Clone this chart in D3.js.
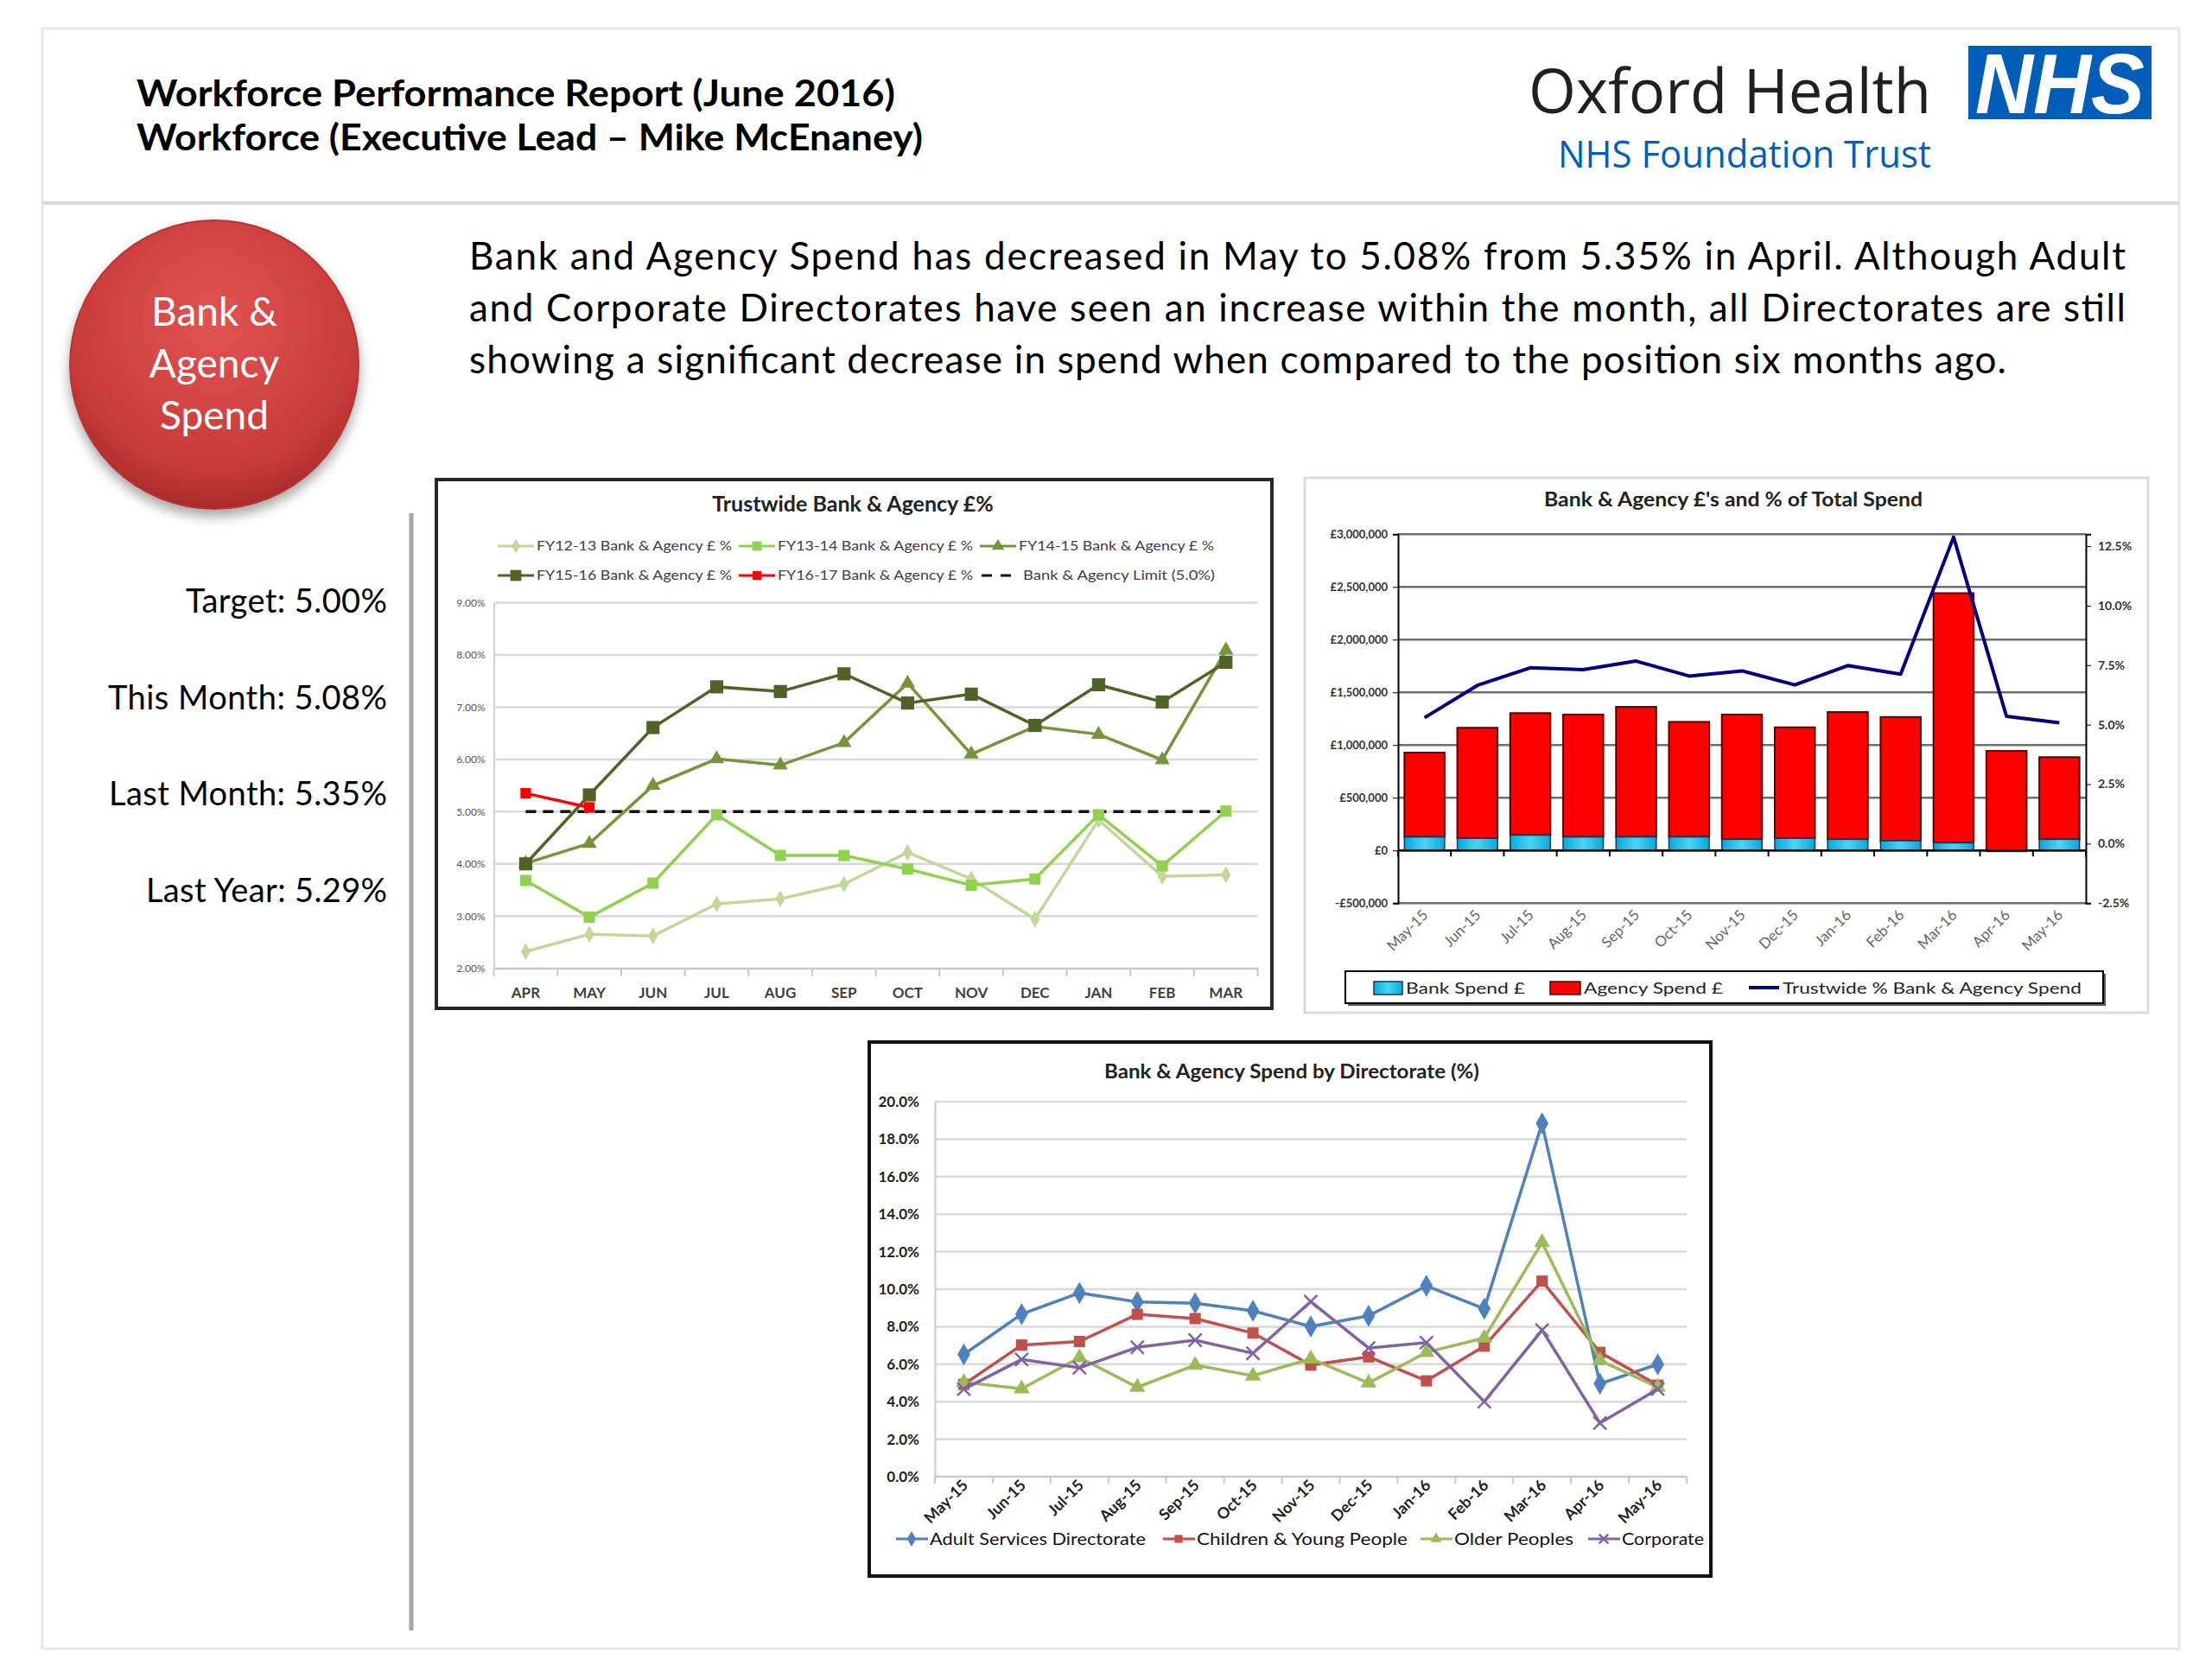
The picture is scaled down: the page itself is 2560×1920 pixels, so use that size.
<!DOCTYPE html>
<meta charset="utf-8">
<script src="https://d3js.org/d3.v7.min.js"></script>
<style>
  body { margin: 0; background: #fff; }
  text { font-family: Lato, "Open Sans", sans-serif; }
</style>
<div id="pagina"></div>
<script>

// ---- Datos: gráfico 1 (Trustwide Bank & Agency £%) ----
var meses = ["APR", "MAY", "JUN", "JUL", "AUG", "SEP", "OCT", "NOV", "DEC", "JAN", "FEB", "MAR"];
var fy1213 = [2.32, 2.65, 2.62, 3.23, 3.33, 3.61, 4.22, 3.71, 2.94, 4.84, 3.76, 3.79];
var fy1314 = [3.68, 2.98, 3.63, 4.94, 4.16, 4.16, 3.90, 3.59, 3.71, 4.94, 3.96, 5.01];
var fy1415 = [4.01, 4.39, 5.50, 6.01, 5.89, 6.32, 7.46, 6.10, 6.63, 6.48, 5.99, 8.09];
var fy1516 = [4.00, 5.32, 6.61, 7.39, 7.30, 7.64, 7.08, 7.25, 6.65, 7.43, 7.10, 7.86];
var fy1617 = [5.35, 5.08];
var limite = 5.0;
var ticksPct1 = [2, 3, 4, 5, 6, 7, 8, 9];

// ---- Datos: gráfico 2 (Bank & Agency £'s and % of Total Spend) ----
var periodos = ["May-15", "Jun-15", "Jul-15", "Aug-15", "Sep-15", "Oct-15", "Nov-15", "Dec-15", "Jan-16", "Feb-16", "Mar-16", "Apr-16", "May-16"];
var bankSpend = [128000, 115000, 145000, 128000, 128000, 128000, 105000, 115000, 105000, 92000, 72000, -10000, 105000];
var agencySpend = [800000, 1049000, 1158000, 1161000, 1234000, 1092000, 1184000, 1053000, 1208000, 1174000, 2369000, 944000, 780000];
var trustPct = [5.29, 6.65, 7.39, 7.31, 7.67, 7.04, 7.26, 6.67, 7.48, 7.12, 12.88, 5.35, 5.08];
var ticksLibras = [-500000, 0, 500000, 1000000, 1500000, 2000000, 2500000, 3000000];
var ticksPct2 = [-2.5, 0, 2.5, 5, 7.5, 10, 12.5];

// ---- Datos: gráfico 3 (Spend by Directorate) ----
var adult = [6.52, 8.67, 9.80, 9.32, 9.25, 8.85, 8.01, 8.58, 10.18, 8.96, 18.84, 4.96, 5.99];
var children = [4.92, 7.02, 7.21, 8.66, 8.43, 7.66, 5.95, 6.39, 5.11, 6.96, 10.43, 6.63, 4.88];
var older = [5.03, 4.69, 6.35, 4.77, 5.95, 5.38, 6.29, 5.00, 6.63, 7.40, 12.49, 6.20, 4.77];
var corporate = [4.67, 6.25, 5.81, 6.90, 7.28, 6.58, 9.34, 6.86, 7.15, 4.00, 7.82, 2.86, 4.67];
var ticksPct3 = [0, 2, 4, 6, 8, 10, 12, 14, 16, 18, 20];

// ---- Textos ----
var parrafo = [
  "Bank and Agency Spend has decreased in May to 5.08% from 5.35% in April. Although Adult",
  "and Corporate Directorates have seen an increase within the month, all Directorates are still",
  "showing a significant decrease in spend when compared to the position six months ago."
];
var indicadores = ["Target: 5.00%", "This Month: 5.08%", "Last Month: 5.35%", "Last Year: 5.29%"];

var svg = d3.select("#pagina").append("svg")
  .attr("width", 2560).attr("height", 1920);

var defs = svg.append("defs");
var grad = defs.append("radialGradient").attr("id", "rojo").attr("cx", "50%").attr("cy", "35%").attr("r", "65%");
grad.append("stop").attr("offset", "0%").attr("stop-color", "#E25452");
grad.append("stop").attr("offset", "80%").attr("stop-color", "#C73A38");
grad.append("stop").attr("offset", "100%").attr("stop-color", "#A82B2A");
var sombra = defs.append("filter").attr("id", "sombra").attr("x", "-20%").attr("y", "-20%").attr("width", "140%").attr("height", "150%");
sombra.append("feDropShadow").attr("dx", 0).attr("dy", 8).attr("stdDeviation", 7).attr("flood-color", "#000").attr("flood-opacity", 0.35);
var cian = defs.append("linearGradient").attr("id", "cian");
cian.append("stop").attr("offset", "0%").attr("stop-color", "#0AA8D8");
cian.append("stop").attr("offset", "50%").attr("stop-color", "#45D6F8");
cian.append("stop").attr("offset", "100%").attr("stop-color", "#0AA8D8");

// ---- Marco de la página ----
svg.append("rect").attr("x", 49).attr("y", 33).attr("width", 2473).attr("height", 1875)
  .attr("fill", "none").attr("stroke", "#E6E6E6").attr("stroke-width", 3);
svg.append("line").attr("x1", 49).attr("x2", 2522).attr("y1", 235).attr("y2", 235)
  .attr("stroke", "#D9D9D9").attr("stroke-width", 4);
svg.append("line").attr("x1", 476).attr("x2", 476).attr("y1", 594).attr("y2", 1887)
  .attr("stroke", "#A6A6A6").attr("stroke-width", 5);

// Cabecera
svg.append("text").attr("x", 158).attr("y", 123).attr("font-size", 42).attr("font-weight", "bold")
  .attr("textLength", 878).attr("lengthAdjust", "spacingAndGlyphs")
  .text("Workforce Performance Report (June 2016)");
svg.append("text").attr("x", 158).attr("y", 174).attr("font-size", 42).attr("font-weight", "bold")
  .attr("textLength", 910).attr("lengthAdjust", "spacingAndGlyphs")
  .text("Workforce (Executive Lead – Mike McEnaney)");

svg.append("text").attr("x", 1769).attr("y", 131).attr("font-size", 72).attr("fill", "#231F20")
  .style("font-family", "'Open Sans', sans-serif")
  .attr("textLength", 466).attr("lengthAdjust", "spacingAndGlyphs").text("Oxford Health");
svg.append("text").attr("x", 1803).attr("y", 194).attr("font-size", 44).attr("fill", "#005EB8")
  .style("font-family", "'Open Sans', sans-serif")
  .attr("textLength", 432).attr("lengthAdjust", "spacingAndGlyphs").text("NHS Foundation Trust");
svg.append("rect").attr("x", 2278).attr("y", 53).attr("width", 212).attr("height", 85).attr("fill", "#005EB8");
svg.append("text").attr("x", 2384).attr("y", 131).attr("text-anchor", "middle").attr("font-size", 98)
  .attr("font-weight", "bold").attr("font-style", "italic").attr("fill", "#fff")
  .style("font-family", "'Liberation Sans', Arial, sans-serif")
  .attr("textLength", 196).attr("lengthAdjust", "spacingAndGlyphs").text("NHS");

// Círculo rojo
svg.append("circle").attr("cx", 248).attr("cy", 422).attr("r", 167)
  .attr("fill", "url(#rojo)").attr("stroke", "#B83634").attr("stroke-width", 2).attr("filter", "url(#sombra)");
["Bank &", "Agency", "Spend"].forEach(function(t, i) {
  svg.append("text").attr("x", 248).attr("y", 377 + i * 60).attr("text-anchor", "middle")
    .attr("font-size", 46).attr("fill", "#fff").text(t);
});

// Párrafo justificado
parrafo.forEach(function(t, i) {
  var tx = svg.append("text").attr("x", 543).attr("y", 312 + i * 60).attr("font-size", 44).attr("fill", "#000")
    .attr("lengthAdjust", "spacing").text(t);
  tx.attr("textLength", i < 2 ? 1917 : 1779);
});

// Indicadores
var anchos = [233, 323, 322, 279];
indicadores.forEach(function(t, i) {
  svg.append("text").attr("x", 448).attr("y", 709 + i * 111.7).attr("text-anchor", "end")
    .attr("font-size", 38).attr("fill", "#000")
    .attr("textLength", anchos[i]).attr("lengthAdjust", "spacing").text(t);
});

// ---- Ayudante de marcadores ----
function simbolo(tipo) {
  return {diamond: d3.symbolDiamond, square: d3.symbolSquare, triangle: d3.symbolTriangle, x: d3.symbolX}[tipo];
}
function marcador(g, tipo, area, color, x, y) {
  var p = g.append("path").attr("d", d3.symbol(simbolo(tipo), area)())
    .attr("transform", "translate(" + x + "," + y + ")");
  if (tipo === "x") p.attr("fill", "none").attr("stroke", color).attr("stroke-width", 2.5);
  else p.attr("fill", color);
  return p;
}

// =========================================================
// Gráfico 1
// =========================================================
var g1 = svg.append("g");
g1.append("rect").attr("x", 505).attr("y", 555).attr("width", 967).attr("height", 612)
  .attr("fill", "#fff").attr("stroke", "#262626").attr("stroke-width", 4);
g1.append("text").attr("x", 987).attr("y", 592).attr("text-anchor", "middle").attr("font-size", 25)
  .attr("font-weight", "bold").attr("fill", "#222").text("Trustwide Bank & Agency £%");

var x1 = d3.scaleBand().domain(meses).range([571.6, 1455.6]);
var y1 = d3.scaleLinear().domain([2, 9]).range([1120.6, 697.6]);
var cx1 = function(m) { return x1(m) + x1.bandwidth() / 2; };

g1.selectAll(".grid1").data(ticksPct1.slice(1)).enter().append("line")
  .attr("x1", 571.6).attr("x2", 1455.6).attr("y1", function(d) { return y1(d); }).attr("y2", function(d) { return y1(d); })
  .attr("stroke", "#D9D9D9").attr("stroke-width", 2.5);

var ejeY1 = g1.append("g").attr("transform", "translate(571.6,0)")
  .call(d3.axisLeft(y1).tickValues(ticksPct1).tickSize(0).tickPadding(10).tickFormat(function(d) { return d.toFixed(2) + "%"; }));
ejeY1.select(".domain").attr("stroke", "#D0D0D0").attr("stroke-width", 2);
ejeY1.selectAll("text").attr("font-size", 12).attr("fill", "#555").style("font-family", "Lato, sans-serif");

var ejeX1 = g1.append("g").attr("transform", "translate(0,1120.6)")
  .call(d3.axisBottom(x1).tickSize(0).tickPadding(22));
ejeX1.select(".domain").attr("stroke", "#C8C8C8").attr("stroke-width", 2.5);
ejeX1.selectAll("text").attr("font-size", 17).attr("font-weight", "bold").attr("fill", "#404040")
  .style("font-family", "Lato, sans-serif");
g1.selectAll(".tick1").data(meses.concat(["fin"])).enter().append("line")
  .attr("x1", function(d, i) { return x1.range()[0] + i * x1.step(); })
  .attr("x2", function(d, i) { return x1.range()[0] + i * x1.step(); })
  .attr("y1", 1120.6).attr("y2", 1130).attr("stroke", "#C8C8C8").attr("stroke-width", 2);

var series1 = [
  {nombre: "FY12-13 Bank & Agency £ %", valores: fy1213, color: "#C4D79B", tipo: "diamond", area: 110},
  {nombre: "FY13-14 Bank & Agency £ %", valores: fy1314, color: "#92D050", tipo: "square", area: 170},
  {nombre: "FY14-15 Bank & Agency £ %", valores: fy1415, color: "#77933C", tipo: "triangle", area: 130},
  {nombre: "FY15-16 Bank & Agency £ %", valores: fy1516, color: "#4F6228", tipo: "square", area: 230},
  {nombre: "FY16-17 Bank & Agency £ %", valores: fy1617, color: "#FF0000", tipo: "square", area: 150}
];

// línea límite
g1.append("line").attr("x1", cx1("APR")).attr("x2", cx1("MAR")).attr("y1", y1(limite)).attr("y2", y1(limite))
  .attr("stroke", "#111").attr("stroke-width", 3.5).attr("stroke-dasharray", "12,8");

var linea1 = d3.line().x(function(d, i) { return cx1(meses[i]); }).y(function(d) { return y1(d); });
series1.forEach(function(s) {
  g1.append("path").datum(s.valores).attr("d", linea1).attr("fill", "none")
    .attr("stroke", s.color).attr("stroke-width", 3.5);
  s.valores.forEach(function(v, i) { marcador(g1, s.tipo, s.area, s.color, cx1(meses[i]), y1(v)); });
});

// leyenda gráfico 1
var ley1 = series1.map(function(s) { return s; }).concat([{nombre: "Bank & Agency Limit (5.0%)", color: "#111", tipo: "dash"}]);
ley1.forEach(function(s, i) {
  var col = i % 3, fila = Math.floor(i / 3);
  var lx = 576 + col * 279, ly = 632 + fila * 34;
  if (s.tipo === "dash") {
    g1.append("line").attr("x1", lx + 2).attr("x2", lx + 42).attr("y1", ly).attr("y2", ly)
      .attr("stroke", s.color).attr("stroke-width", 3).attr("stroke-dasharray", "12,10");
  } else {
    g1.append("line").attr("x1", lx).attr("x2", lx + 42).attr("y1", ly).attr("y2", ly)
      .attr("stroke", s.color).attr("stroke-width", 3);
    marcador(g1, s.tipo, s.area * 0.7, s.color, lx + 21, ly);
  }
  g1.append("text").attr("x", lx + (s.tipo === "dash" ? 50 : 45)).attr("y", ly + 5).attr("font-size", 15)
    .attr("fill", "#404040").attr("textLength", s.tipo === "dash" ? 222 : 226).attr("lengthAdjust", "spacingAndGlyphs")
    .text(s.nombre);
});

// =========================================================
// Gráfico 2
// =========================================================
var g2 = svg.append("g");
g2.append("rect").attr("x", 1510).attr("y", 553).attr("width", 976).attr("height", 619)
  .attr("fill", "#fff").attr("stroke", "#DCDCDC").attr("stroke-width", 3);
g2.append("text").attr("x", 2006).attr("y", 586).attr("text-anchor", "middle").attr("font-size", 23)
  .attr("font-weight", "bold").attr("fill", "#222")
  .attr("textLength", 438).attr("lengthAdjust", "spacingAndGlyphs").text("Bank & Agency £'s and % of Total Spend");

var x2 = d3.scaleBand().domain(periodos).range([1618, 2414]).paddingInner(0.24).paddingOuter(0.12);
var y2 = d3.scaleLinear().domain([-500000, 3000000]).range([1045.2, 618.3]);
var y2r = d3.scaleLinear().domain([-2.5, 13]).range([1045.2, 618.3]);
var cx2 = function(p) { return x2(p) + x2.bandwidth() / 2; };

g2.selectAll(".grid2").data(ticksLibras).enter().append("line")
  .attr("x1", 1618).attr("x2", 2414).attr("y1", function(d) { return y2(d); }).attr("y2", function(d) { return y2(d); })
  .attr("stroke", "#6E6E6E").attr("stroke-width", 2.5);

var ejeY2 = g2.append("g").attr("transform", "translate(1618,0)")
  .call(d3.axisLeft(y2).tickValues(ticksLibras).tickSize(6).tickPadding(6)
    .tickFormat(function(d) { return (d < 0 ? "-£" : "£") + d3.format(",")(Math.abs(d)); }));
ejeY2.select(".domain").attr("stroke", "#000").attr("stroke-width", 2);
ejeY2.selectAll("line").attr("stroke", "#000");
ejeY2.selectAll("text").attr("font-size", 13).attr("font-weight", "bold").attr("fill", "#333")
  .style("font-family", "Lato, sans-serif");

var ejeY2r = g2.append("g").attr("transform", "translate(2414,0)")
  .call(d3.axisRight(y2r).tickValues(ticksPct2).tickSize(6).tickPadding(8)
    .tickFormat(function(d) { return d.toFixed(1) + "%"; }));
ejeY2r.select(".domain").attr("stroke", "#000").attr("stroke-width", 2);
ejeY2r.selectAll("line").attr("stroke", "#000");
ejeY2r.selectAll("text").attr("font-size", 14).attr("font-weight", "bold").attr("fill", "#333")
  .style("font-family", "Lato, sans-serif");

// barras apiladas
periodos.forEach(function(p, i) {
  var b = bankSpend[i], base = Math.max(0, b);
  g2.append("rect").attr("x", x2(p)).attr("width", x2.bandwidth())
    .attr("y", y2(base + agencySpend[i])).attr("height", y2(base) - y2(base + agencySpend[i]))
    .attr("fill", "#FF0000").attr("stroke", "#5A0000").attr("stroke-width", 2);
  g2.append("rect").attr("x", x2(p)).attr("width", x2.bandwidth())
    .attr("y", y2(Math.max(0, b))).attr("height", Math.abs(y2(0) - y2(b)))
    .attr("fill", "url(#cian)").attr("stroke", "#0B3B5B").attr("stroke-width", 1.5);
});

// eje de categorías en £0
g2.append("line").attr("x1", 1618).attr("x2", 2414).attr("y1", y2(0)).attr("y2", y2(0))
  .attr("stroke", "#000").attr("stroke-width", 2.5);
g2.selectAll(".tick2").data(periodos.concat(["fin"])).enter().append("line")
  .attr("x1", function(d, i) { return 1618 + i * (796 / periodos.length); })
  .attr("x2", function(d, i) { return 1618 + i * (796 / periodos.length); })
  .attr("y1", y2(0)).attr("y2", y2(0) + 7).attr("stroke", "#000").attr("stroke-width", 2);
g2.selectAll(".lab2").data(periodos).enter().append("text")
  .attr("transform", function(d) { return "translate(" + (cx2(d) + 5) + ",1060) rotate(-45)"; })
  .attr("text-anchor", "end").attr("font-size", 17).attr("fill", "#666").text(function(d) { return d; });

// línea porcentaje
var linea2 = d3.line().x(function(d, i) { return cx2(periodos[i]); }).y(function(d) { return y2r(d); });
g2.append("path").datum(trustPct).attr("d", linea2).attr("fill", "none")
  .attr("stroke", "#000080").attr("stroke-width", 4).attr("stroke-linejoin", "round");

// leyenda gráfico 2
g2.append("rect").attr("x", 1560).attr("y", 1127).attr("width", 877).attr("height", 37).attr("fill", "#555");
g2.append("rect").attr("x", 1557).attr("y", 1124).attr("width", 877).attr("height", 37)
  .attr("fill", "#fff").attr("stroke", "#000").attr("stroke-width", 2);
g2.append("rect").attr("x", 1590).attr("y", 1136).attr("width", 33).attr("height", 15)
  .attr("fill", "url(#cian)").attr("stroke", "#0B3B5B").attr("stroke-width", 1.5);
g2.append("text").attr("x", 1627).attr("y", 1150).attr("font-size", 18).attr("fill", "#222")
  .attr("textLength", 138).attr("lengthAdjust", "spacingAndGlyphs").text("Bank Spend £");
g2.append("rect").attr("x", 1794).attr("y", 1136).attr("width", 35).attr("height", 15)
  .attr("fill", "#FF0000").attr("stroke", "#5A0000").attr("stroke-width", 1.5);
g2.append("text").attr("x", 1833).attr("y", 1150).attr("font-size", 18).attr("fill", "#222")
  .attr("textLength", 161).attr("lengthAdjust", "spacingAndGlyphs").text("Agency Spend £");
g2.append("line").attr("x1", 2024).attr("x2", 2059).attr("y1", 1143).attr("y2", 1143)
  .attr("stroke", "#000080").attr("stroke-width", 4);
g2.append("text").attr("x", 2063).attr("y", 1150).attr("font-size", 18).attr("fill", "#222")
  .attr("textLength", 346).attr("lengthAdjust", "spacingAndGlyphs").text("Trustwide % Bank & Agency Spend");

// =========================================================
// Gráfico 3
// =========================================================
var g3 = svg.append("g");
g3.append("rect").attr("x", 1006).attr("y", 1206).attr("width", 974).attr("height", 618)
  .attr("fill", "#fff").attr("stroke", "#111").attr("stroke-width", 4);
g3.append("text").attr("x", 1495).attr("y", 1248).attr("text-anchor", "middle").attr("font-size", 23)
  .attr("font-weight", "bold").attr("fill", "#222")
  .attr("textLength", 434).attr("lengthAdjust", "spacingAndGlyphs").text("Bank & Agency Spend by Directorate (%)");

var x3 = d3.scaleBand().domain(periodos).range([1082, 1952]);
var y3 = d3.scaleLinear().domain([0, 20]).range([1709, 1275]);
var cx3 = function(p) { return x3(p) + x3.bandwidth() / 2; };

g3.selectAll(".grid3").data(ticksPct3.slice(1)).enter().append("line")
  .attr("x1", 1082).attr("x2", 1952).attr("y1", function(d) { return y3(d); }).attr("y2", function(d) { return y3(d); })
  .attr("stroke", "#D9D9D9").attr("stroke-width", 2.5);

var ejeY3 = g3.append("g").attr("transform", "translate(1082,0)")
  .call(d3.axisLeft(y3).tickValues(ticksPct3).tickSize(0).tickPadding(18).tickFormat(function(d) { return d.toFixed(1) + "%"; }));
ejeY3.select(".domain").attr("stroke", "#C8C8C8").attr("stroke-width", 2);
ejeY3.selectAll("text").attr("font-size", 17).attr("font-weight", "bold").attr("fill", "#222")
  .style("font-family", "Lato, sans-serif");

g3.append("line").attr("x1", 1082).attr("x2", 1952).attr("y1", y3(0)).attr("y2", y3(0))
  .attr("stroke", "#C8C8C8").attr("stroke-width", 2.5);
g3.selectAll(".tick3").data(periodos.concat(["fin"])).enter().append("line")
  .attr("x1", function(d, i) { return x3.range()[0] + i * x3.step(); })
  .attr("x2", function(d, i) { return x3.range()[0] + i * x3.step(); })
  .attr("y1", y3(0)).attr("y2", y3(0) + 8).attr("stroke", "#C8C8C8").attr("stroke-width", 2);
g3.selectAll(".lab3").data(periodos).enter().append("text")
  .attr("transform", function(d) { return "translate(" + (cx3(d) + 6) + ",1720) rotate(-45)"; })
  .attr("text-anchor", "end").attr("font-size", 18).attr("font-weight", "bold").attr("fill", "#222")
  .text(function(d) { return d; });

var series3 = [
  {nombre: "Adult Services Directorate", valores: adult, color: "#4F81BD", tipo: "diamond", area: 190, lx: 1037, tl: 250},
  {nombre: "Children & Young People", valores: children, color: "#C0504D", tipo: "square", area: 170, lx: 1346, tl: 244},
  {nombre: "Older Peoples", valores: older, color: "#9BBB59", tipo: "triangle", area: 150, lx: 1644, tl: 138},
  {nombre: "Corporate", valores: corporate, color: "#8064A2", tipo: "x", area: 150, lx: 1838, tl: 95}
];
var linea3 = d3.line().x(function(d, i) { return cx3(periodos[i]); }).y(function(d) { return y3(d); });
series3.forEach(function(s) {
  g3.append("path").datum(s.valores).attr("d", linea3).attr("fill", "none")
    .attr("stroke", s.color).attr("stroke-width", 3.5);
  s.valores.forEach(function(v, i) { marcador(g3, s.tipo, s.area, s.color, cx3(periodos[i]), y3(v)); });
  // leyenda
  g3.append("line").attr("x1", s.lx).attr("x2", s.lx + 37).attr("y1", 1781).attr("y2", 1781)
    .attr("stroke", s.color).attr("stroke-width", 3);
  marcador(g3, s.tipo, s.area * 0.5, s.color, s.lx + 18, 1781);
  g3.append("text").attr("x", s.lx + 39).attr("y", 1788).attr("font-size", 20).attr("fill", "#111")
    .attr("textLength", s.tl).attr("lengthAdjust", "spacingAndGlyphs").text(s.nombre);
});

</script>
